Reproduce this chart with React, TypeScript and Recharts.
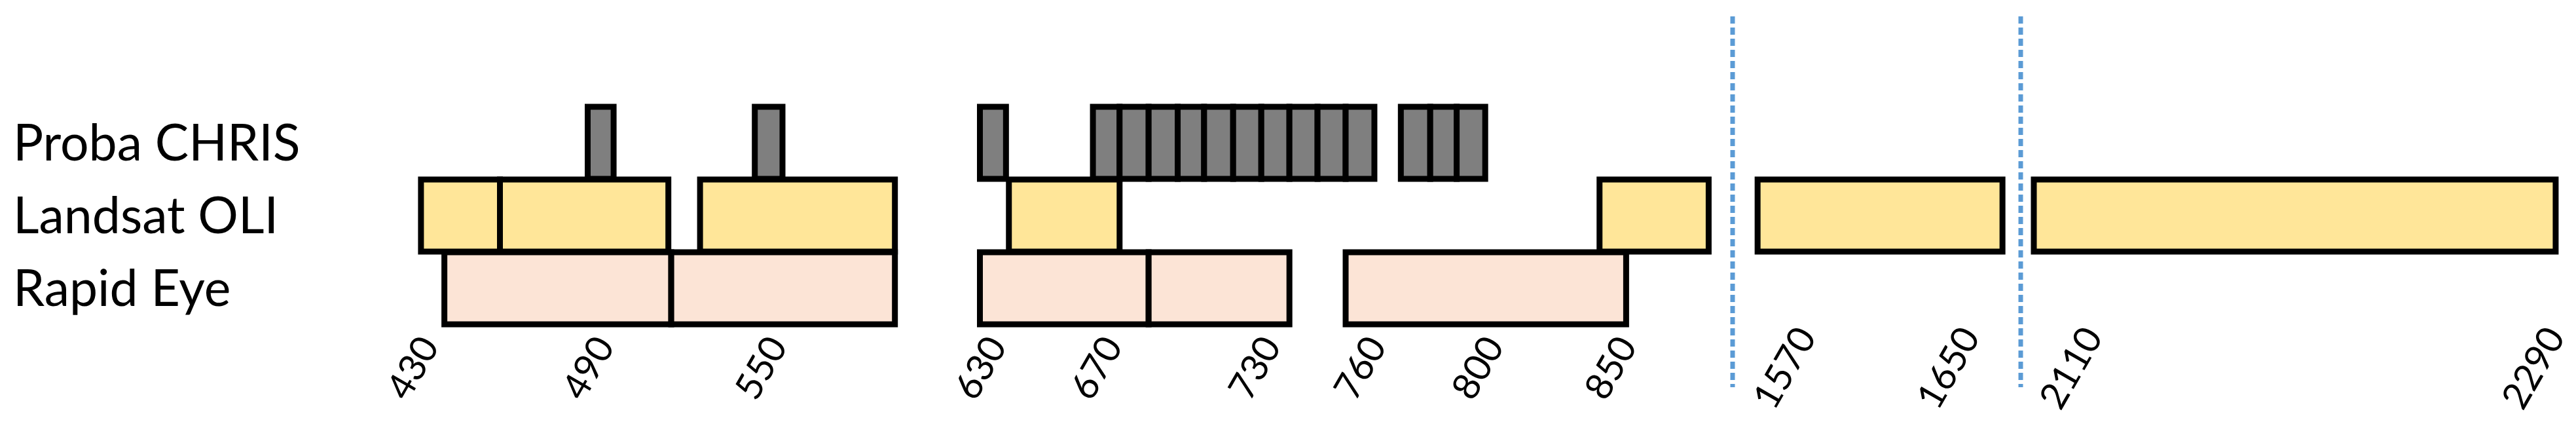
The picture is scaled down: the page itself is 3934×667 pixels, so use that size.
import React from 'react';
import { BarChart, Bar, XAxis, YAxis, Cell, ReferenceLine } from 'recharts';

// ---------- data (wavelengths in nm) ----------
const categories = ['Proba CHRIS', 'Landsat OLI', 'Rapid Eye'];

const probaChrisBands: [number, number][] = [
  [490, 499], [548, 558], [630, 639],
  [669, 679], [679, 690], [690, 701], [701, 711], [711, 722],
  [722, 732], [732, 740], [740, 748], [748, 756], [756, 765],
  [774, 784], [784, 793], [793, 803],
];

const landsatOliBands: [number, number][] = [
  [433, 460], [460, 518], [529, 599], [640, 679], [846, 887], [1557, 1677], [2096, 2299],
];

const rapidEyeBands: [number, number][] = [
  [441, 519], [519, 599], [630, 690], [690, 740], [756, 856],
];

const tickValues = [430, 490, 550, 630, 670, 730, 760, 800, 850, 1570, 1650, 2110, 2290];

// wavelengths where the axis is broken (dashed lines)
const axisBreaks = [896, 1686];

// ---------- broken / non-uniform axis definition ----------
// [wavelength, layout unit] knots of the schematic axis (piecewise linear, with breaks)
const scaleKnots: [number, number][] = [
  [420, 585], [430, 629.5], [490, 897.5], [550, 1161.5], [630, 1496.5], [670, 1673.5],
  [730, 1915.5], [760, 2076.5], [800, 2256], [850, 2459], [896, 2646],
  [1546, 2650], [1570, 2724.5], [1650, 2974.5], [1686, 3086],
  [2092, 3090], [2110, 3162], [2290, 3868], [2307, 3934],
];
const axisDomain: [number, number] = [420, 2307];

function interp(v: number, pts: [number, number][], from: 0 | 1): number {
  const to = from === 0 ? 1 : 0;
  const n = pts.length;
  let i = 0;
  if (v <= pts[0][from]) i = 0;
  else if (v >= pts[n - 1][from]) i = n - 2;
  else {
    while (i < n - 2 && v > pts[i + 1][from]) i++;
  }
  const a = pts[i];
  const b = pts[i + 1];
  const t = (v - a[from]) / (b[from] - a[from]);
  return a[to] + t * (b[to] - a[to]);
}

function createBrokenScale(knots: [number, number][], tickList: number[], initDom?: number[], initRng?: number[]): any {
  let dom: number[] = initDom ? initDom.slice() : [knots[0][0], knots[knots.length - 1][0]];
  let rng: number[] = initRng ? initRng.slice() : [0, 1];
  const toPixel = (v: number) => {
    const u0 = interp(dom[0], knots, 0);
    const u1 = interp(dom[dom.length - 1], knots, 0);
    const r0 = rng[0];
    const r1 = rng[rng.length - 1];
    return r0 + ((interp(v, knots, 0) - u0) / (u1 - u0)) * (r1 - r0);
  };
  const scale: any = (v: any) => {
    if (v === null || v === undefined || v === '') return NaN;
    const n = Number(v);
    if (!Number.isFinite(n)) return NaN;
    return toPixel(n);
  };
  scale.domain = (d?: any[]) => {
    if (d === undefined) return dom.slice();
    dom = d.map(Number);
    return scale;
  };
  scale.range = (r?: any[]) => {
    if (r === undefined) return rng.slice();
    rng = r.map(Number);
    return scale;
  };
  scale.invert = (px: number) => {
    const u0 = interp(dom[0], knots, 0);
    const u1 = interp(dom[dom.length - 1], knots, 0);
    const r0 = rng[0];
    const r1 = rng[rng.length - 1];
    const u = u0 + ((px - r0) / (r1 - r0)) * (u1 - u0);
    return interp(u, knots, 1);
  };
  scale.ticks = () => tickList.filter((t) => t >= Math.min(dom[0], dom[dom.length - 1]) && t <= Math.max(dom[0], dom[dom.length - 1]));
  scale.tickFormat = () => (d: any) => String(d);
  scale.nice = () => scale;
  scale.clamp = () => scale;
  scale.copy = () => createBrokenScale(knots, tickList, dom, rng);
  return scale;
}

const brokenScale = createBrokenScale(scaleKnots, tickValues, axisDomain);

// ---------- table built from the arrays ----------
const bandLists = [probaChrisBands, landsatOliBands, rapidEyeBands];
const maxBands = Math.max(...bandLists.map((b) => b.length));
const seriesKeys = Array.from({ length: maxBands }, (_, k) => `b${k}`);
const rows = categories.map((name, i) => {
  const row: Record<string, any> = { name };
  bandLists[i].forEach((band, k) => {
    row[`b${k}`] = band;
  });
  return row;
});

// ---------- styles ----------
const rowFills = ['#7F7F7F', '#FFE699', '#FCE4D6'];
const FONT = "Lato, 'Open Sans', 'Noto Sans', sans-serif";
const BORDER = 9;

const BandRect = (props: any) => {
  const { x, y, width, height, fill } = props;
  if (![x, y, width, height].every((v) => typeof v === 'number' && Number.isFinite(v)) || width === 0) return null;
  const left = Math.min(x, x + width);
  return (
    <rect
      x={left}
      y={y}
      width={Math.abs(width)}
      height={height}
      fill={fill}
      stroke="#000"
      strokeWidth={BORDER}
      strokeLinejoin="miter"
    />
  );
};

const XTick = (props: any) => {
  const { x, payload } = props;
  const cy = 561;
  return (
    <text
      x={x}
      y={cy}
      dy="0.36em"
      textAnchor="middle"
      transform={`rotate(-60 ${x} ${cy})`}
      fontFamily={FONT}
      fontSize={57}
      fill="#000"
    >
      {payload.value}
    </text>
  );
};

const YTick = (props: any) => {
  const { y, payload } = props;
  return (
    <text x={20} y={y} dy="0.36em" textAnchor="start" fontFamily={FONT} fontSize={77} fill="#000">
      {payload.value}
    </text>
  );
};

const BreakLine = (props: any) => {
  const { x1 } = props;
  if (x1 === undefined || Number.isNaN(x1)) return null;
  return (
    <line x1={x1} x2={x1} y1={25} y2={591} stroke="#5B9BD5" strokeWidth={7} strokeDasharray="11 6" />
  );
};

export default function App() {
  return (
    <div style={{ position: 'absolute', left: 0, top: 0, width: 3934, height: 667, background: '#fff' }}>
      <BarChart
        width={3934}
        height={667}
        data={rows}
        layout="vertical"
        margin={{ top: 162, right: 0, bottom: 0, left: 0 }}
        barCategoryGap={0}
        barGap={-110}
        barSize={110}
      >
        <XAxis
          type="number"
          scale={brokenScale}
          domain={axisDomain}
          allowDataOverflow
          ticks={tickValues}
          interval={0}
          axisLine={false}
          tickLine={false}
          height={172}
          tick={XTick}
        />
        <YAxis
          type="category"
          dataKey="name"
          width={585}
          axisLine={false}
          tickLine={false}
          interval={0}
          tick={YTick}
        />
        {seriesKeys.map((key) => (
          <Bar key={key} dataKey={key} isAnimationActive={false} shape={BandRect}>
            {rows.map((r, i) => (
              <Cell key={`${key}-${i}`} fill={rowFills[i]} />
            ))}
          </Bar>
        ))}
        {axisBreaks.map((b) => (
          <ReferenceLine key={`brk-${b}`} x={b} shape={BreakLine} ifOverflow="visible" />
        ))}
      </BarChart>
    </div>
  );
}
